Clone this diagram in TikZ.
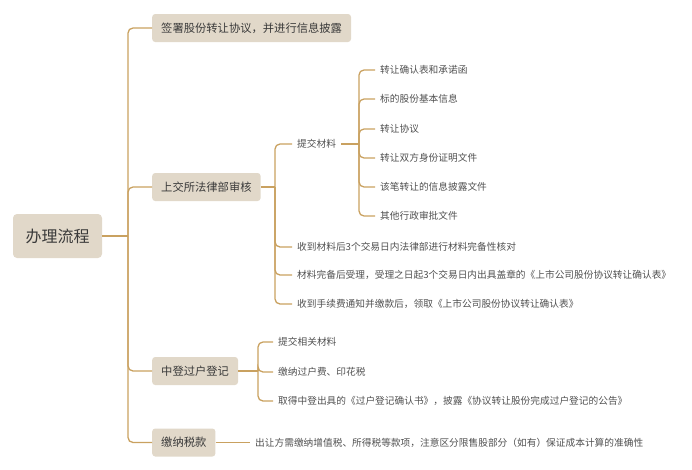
\documentclass[tikz,border=0pt]{standalone}
\usepackage{fontspec}
\setmainfont{Noto Sans CJK SC}
\usetikzlibrary{positioning}
\definecolor{boxc}{HTML}{E1D8C9}
\definecolor{linkc}{HTML}{C9A160}
\definecolor{textc}{HTML}{3A3A3A}
\definecolor{leafc}{HTML}{505050}
\tikzset{
rootstyle/.style={
  rectangle,
  rounded corners=4pt,
  fill=boxc,
  text=textc,
  minimum width=89pt,
  minimum height=44pt,
  font=\fontsize{16}{18}\selectfont,
  }
}
\tikzset{
mainstyle/.style={
  rectangle,
  rounded corners=3pt,
  fill=boxc,
  text=textc,
  anchor=west,
  inner xsep=9pt,
  minimum height=28pt,
  font=\fontsize{11.3}{13}\selectfont,
  }
}
\tikzset{
leafstyle/.style={
  anchor=west,
  inner xsep=5pt,
  inner ysep=2pt,
  text=leafc,
  font=\fontsize{9.7}{11}\selectfont,
  }
}
\tikzset{
myline/.style={
  line width=1.3pt,
  draw=linkc,
  rounded corners=5pt,
  }
}

\begin{document}
\begin{tikzpicture}[x=1pt,y=-1pt]
    \useasboundingbox (0,0) rectangle (692,469);

    % root part
    \node[rootstyle] (root) at (57.5,236) {办理流程};
    \coordinate (j0) at (128,236);

    % main steps
    \node[mainstyle] (sign) at (152,28) {签署股份转让协议，并进行信息披露};
    \node[mainstyle] (sse) at (152,187) {上交所法律部审核};
    \node[mainstyle] (csdc) at (152,371) {中登过户登记};
    \node[mainstyle] (tax) at (152,442.5) {缴纳税款};

    % exchange part
    \coordinate (j1) at (275,187);
    \node[leafstyle] (mat) at (292,144) {提交材料};
    \node[leafstyle] (chk) at (292,247) {收到材料后3个交易日内法律部进行材料完备性核对};
    \node[leafstyle] (acc) at (292,275) {材料完备后受理，受理之日起3个交易日内出具盖章的《上市公司股份协议转让确认表》};
    \node[leafstyle] (fee) at (292,304) {收到手续费通知并缴款后，领取《上市公司股份协议转让确认表》};

    % material part
    \coordinate (j2) at (359,144);
    \node[leafstyle] (m1) at (375,70) {转让确认表和承诺函};
    \node[leafstyle] (m2) at (375,99) {标的股份基本信息};
    \node[leafstyle] (m3) at (375,129) {转让协议};
    \node[leafstyle] (m4) at (375,158) {转让双方身份证明文件};
    \node[leafstyle] (m5) at (375,187) {该笔转让的信息披露文件};
    \node[leafstyle] (m6) at (375,216) {其他行政审批文件};

    % registration part
    \coordinate (j3) at (258,371);
    \node[leafstyle] (r1) at (273,342) {提交相关材料};
    \node[leafstyle] (r2) at (273,372) {缴纳过户费、印花税};
    \node[leafstyle] (r3) at (273,401) {取得中登出具的《过户登记确认书》，披露《协议转让股份完成过户登记的公告》};

    % tax part
    \node[leafstyle] (t1) at (250,442.5) {出让方需缴纳增值税、所得税等款项，注意区分限售股部分（如有）保证成本计算的准确性};

    % root edges
    \draw[myline] (root.east) -- (j0);
    \foreach \n in {sign,sse,csdc,tax}
        \draw[myline] (j0) |- (\n.west);

    % exchange edges
    \draw[myline] (sse.east) -- (j1);
    \foreach \n in {mat,chk,acc,fee}
        \draw[myline] (j1) |- (\n.west);

    % material edges
    \draw[myline] (mat.east) -- (j2);
    \foreach \n in {m1,m2,m3,m4,m5,m6}
        \draw[myline] (j2) |- (\n.west);

    % registration edges
    \draw[myline] (csdc.east) -- (j3);
    \foreach \n in {r1,r2,r3}
        \draw[myline] (j3) |- (\n.west);

    % tax edges
    \draw[myline] (tax.east) -- (t1.west);
\end{tikzpicture}
\end{document}
